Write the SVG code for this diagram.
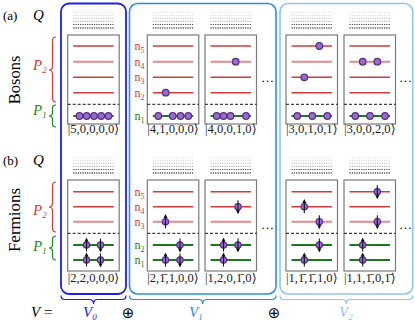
<svg xmlns="http://www.w3.org/2000/svg" xmlns:xlink="http://www.w3.org/1999/xlink" width="415" height="325" viewBox="0 0 415 325">
<style>
.t{font-family:"Liberation Serif","DejaVu Serif",serif}
.box0{fill:none;stroke:#1f1fe6;stroke-width:1.8}
.box1{fill:none;stroke:#2b8de8;stroke-width:1.6}
.box2{fill:none;stroke:#92c4f2;stroke-width:1.6}
.panel{fill:#fff;stroke:#7a7a7a;stroke-width:1.2}
.red{stroke:#d23c3c;stroke-width:1.4}
.pink{stroke:#e38a8a;stroke-width:2}
.grn{stroke:#1b7a1b;stroke-width:2.2}
.dash{stroke:#111;stroke-width:1;stroke-dasharray:3 2}
.pb{fill:#9370c8;stroke:#5c2c8e;stroke-width:1.2}
.q{stroke-width:1;stroke-dasharray:1.3 1}
.ket{font-size:12.6px;fill:#222;text-anchor:middle}
.nr{font-size:12px;fill:#d23c3c}
.ng{font-size:12px;fill:#1b7a1b}
.cal{font-style:italic;font-size:15px}
.brace{fill:none;stroke-width:1.2}
</style>
<defs>
<g id="qd">
<line class="q" x1="5.5" x2="46" y1="12.3" y2="12.3" stroke="#e4e4e4"/>
<line class="q" x1="5.5" x2="46" y1="15.3" y2="15.3" stroke="#d8d8d8"/>
<line class="q" x1="5.5" x2="46" y1="18.3" y2="18.3" stroke="#c4c4c4"/>
<line class="q" x1="5.5" x2="46" y1="21.3" y2="21.3" stroke="#a8a8a8"/>
<line class="q" x1="5.5" x2="46" y1="24.5" y2="24.5" stroke="#555"/>
<line class="q" x1="5.5" x2="46" y1="28" y2="28" stroke="#111"/>
</g>
<g id="bp">
<rect class="panel" x="0" y="35" width="51.5" height="89"/>
<line class="red" x1="5.5" x2="46" y1="46" y2="46"/>
<line class="pink" x1="5.5" x2="46" y1="61.7" y2="61.7"/>
<line class="red" x1="5.5" x2="46" y1="77.3" y2="77.3"/>
<line class="red" x1="5.5" x2="46" y1="92.7" y2="92.7"/>
<line class="dash" x1="0" x2="51.5" y1="104.3" y2="104.3"/>
<line class="grn" x1="5.5" x2="46" y1="116" y2="116"/>
</g>
<g id="fp">
<rect class="panel" x="0" y="180" width="51.5" height="91"/>
<line class="red" x1="5.5" x2="46" y1="191.7" y2="191.7"/>
<line class="red" x1="5.5" x2="46" y1="206.7" y2="206.7"/>
<line class="pink" x1="5.5" x2="46" y1="221.7" y2="221.7"/>
<line class="dash" x1="0" x2="51.5" y1="233.3" y2="233.3"/>
<line class="grn" x1="5.5" x2="46" y1="245" y2="245"/>
<line class="grn" x1="5.5" x2="46" y1="260" y2="260"/>
</g>
<circle id="b" r="3.3" class="pb"/>
<g id="up">
<circle r="3.2" class="pb"/>
<line x1="0" y1="6.5" x2="0" y2="-4" stroke="#111" stroke-width="1.1"/>
<path d="M-2 -3.6 L0 -7.6 L2 -3.6Z" fill="#111"/>
</g>
</defs>

<g id="containers">
<rect class="box0" x="61" y="3.5" width="65" height="290.5" rx="8"/>
<rect class="box1" x="129.5" y="3.5" width="146.5" height="290.5" rx="8"/>
<rect class="box2" x="280" y="3.5" width="132.7" height="290.5" rx="8"/>
</g>

<g id="labels" class="t">
<text x="3" y="19.5" font-size="13">(a)</text>
<text class="cal" x="33" y="19.5">Q</text>
<text x="3" y="164.5" font-size="13">(b)</text>
<text class="cal" x="33" y="164.5">Q</text>
<text transform="translate(20,80) rotate(-90)" font-size="16.5" text-anchor="middle">Bosons</text>
<text transform="translate(20,220) rotate(-90)" font-size="17" text-anchor="middle">Fermions</text>
<text class="cal" x="33" y="70" fill="#d23c3c">P<tspan font-size="9" dy="3">2</tspan></text>
<text class="cal" x="33" y="115" fill="#1b8a1b">P<tspan font-size="9" dy="3">1</tspan></text>
<text class="cal" x="33" y="215" fill="#d23c3c">P<tspan font-size="9" dy="3">2</tspan></text>
<text class="cal" x="33" y="251" fill="#1b8a1b">P<tspan font-size="9" dy="3">1</tspan></text>
<text x="31" y="317" font-size="15"><tspan font-style="italic">V</tspan> =</text>
<text class="cal" x="83" y="317" fill="#2020e0">V<tspan font-size="9" dy="3">0</tspan></text>
<text class="cal" x="189" y="317" fill="#2b8de8">V<tspan font-size="9" dy="3">1</tspan></text>
<text class="cal" x="339" y="317" fill="#92c4f2">V<tspan font-size="9" dy="3">2</tspan></text>
<text x="128" y="318" font-size="15" text-anchor="middle" font-family="DejaVu Sans">⊕</text>
<text x="274" y="318" font-size="15" text-anchor="middle" font-family="DejaVu Sans">⊕</text>
<text x="261" y="82" font-size="13">…</text>
<text x="399" y="82" font-size="13">…</text>
<text x="261" y="229" font-size="13">…</text>
<text x="399" y="229" font-size="13">…</text>
<text class="nr" x="134.5" y="50">n<tspan font-size="8" dy="3">5</tspan></text>
<text class="nr" x="134.5" y="65.7">n<tspan font-size="8" dy="3">4</tspan></text>
<text class="nr" x="134.5" y="81.3">n<tspan font-size="8" dy="3">3</tspan></text>
<text class="nr" x="134.5" y="96.7">n<tspan font-size="8" dy="3">2</tspan></text>
<text class="ng" x="134.5" y="120">n<tspan font-size="8" dy="3">1</tspan></text>
<text class="nr" x="134.5" y="195.7">n<tspan font-size="8" dy="3">5</tspan></text>
<text class="nr" x="134.5" y="210.7">n<tspan font-size="8" dy="3">4</tspan></text>
<text class="nr" x="134.5" y="225.7">n<tspan font-size="8" dy="3">3</tspan></text>
<text class="ng" x="134.5" y="249">n<tspan font-size="8" dy="3">2</tspan></text>
<text class="ng" x="134.5" y="264">n<tspan font-size="8" dy="3">1</tspan></text>
</g>

<g id="connectors">
<path class="brace" stroke="#d23c3c" d="M56 37 Q52.5 37 52.5 41 L52.5 66 Q52.5 70 49 70 Q52.5 70 52.5 74 L52.5 98 Q52.5 102 56 102"/>
<path class="brace" stroke="#1b8a1b" d="M56 105 Q52.5 105 52.5 108.5 L52.5 112.5 Q52.5 116 49 116 Q52.5 116 52.5 119.5 L52.5 123.5 Q52.5 127 56 127"/>
<path class="brace" stroke="#d23c3c" d="M56 182 Q52.5 182 52.5 186 L52.5 203 Q52.5 207 49 207 Q52.5 207 52.5 211 L52.5 228 Q52.5 232 56 232"/>
<path class="brace" stroke="#1b8a1b" d="M56 236 Q52.5 236 52.5 239.5 L52.5 244.5 Q52.5 248 49 248 Q52.5 248 52.5 251.5 L52.5 256.5 Q52.5 260 56 260"/>
<path class="brace" stroke="#2020e0" d="M61 295.5 Q61 299.5 65 299.5 L89.5 299.5 Q93.5 299.5 93.5 304 Q93.5 299.5 97.5 299.5 L122 299.5 Q126 299.5 126 295.5"/>
<path class="brace" stroke="#2b8de8" d="M129.5 295.5 Q129.5 299.5 133.5 299.5 L198.7 299.5 Q202.7 299.5 202.7 304 Q202.7 299.5 206.7 299.5 L272 299.5 Q276 299.5 276 295.5"/>
<path class="brace" stroke="#92c4f2" d="M280 295.5 Q280 299.5 284 299.5 L342.3 299.5 Q346.3 299.5 346.3 304 Q346.3 299.5 350.3 299.5 L408.7 299.5 Q412.7 299.5 412.7 295.5"/>
</g>

<g id="boson-5-0-0-0-0">
<use xlink:href="#qd" x="67.7"/>
<use xlink:href="#bp" x="67.7"/>
<use xlink:href="#b" x="79.5" y="116"/><use xlink:href="#b" x="86.7" y="116"/><use xlink:href="#b" x="94" y="116"/><use xlink:href="#b" x="101.2" y="116"/><use xlink:href="#b" x="108.5" y="116"/>
<text class="t ket" x="93.5" y="132.5">|5,0,0,0,0⟩</text>
</g>
<g id="boson-4-1-0-0-0">
<use xlink:href="#qd" x="147.3"/>
<use xlink:href="#bp" x="147.3"/>
<use xlink:href="#b" x="165.7" y="92.7"/>
<use xlink:href="#b" x="158.3" y="116"/><use xlink:href="#b" x="172.7" y="116"/><use xlink:href="#b" x="180.5" y="116"/><use xlink:href="#b" x="188.3" y="116"/>
<text class="t ket" x="173" y="132.5">|4,1,0,0,0⟩</text>
</g>
<g id="boson-4-0-0-1-0">
<use xlink:href="#qd" x="205"/>
<use xlink:href="#bp" x="205"/>
<use xlink:href="#b" x="235.7" y="61.7"/>
<use xlink:href="#b" x="216.7" y="116"/><use xlink:href="#b" x="223.5" y="116"/><use xlink:href="#b" x="230.5" y="116"/><use xlink:href="#b" x="246" y="116"/>
<text class="t ket" x="230.8" y="132.5">|4,0,0,1,0⟩</text>
</g>
<g id="boson-3-0-1-0-1">
<use xlink:href="#qd" x="286"/>
<use xlink:href="#bp" x="286"/>
<use xlink:href="#b" x="319.3" y="46"/>
<use xlink:href="#b" x="304.3" y="77.3"/>
<use xlink:href="#b" x="297.3" y="116"/><use xlink:href="#b" x="312.3" y="116"/><use xlink:href="#b" x="327.3" y="116"/>
<text class="t ket" x="311.8" y="132.5">|3,0,1,0,1⟩</text>
</g>
<g id="boson-3-0-0-2-0">
<use xlink:href="#qd" x="344"/>
<use xlink:href="#bp" x="344"/>
<use xlink:href="#b" x="362.7" y="61.7"/><use xlink:href="#b" x="377.3" y="61.7"/>
<use xlink:href="#b" x="355.3" y="116"/><use xlink:href="#b" x="370" y="116"/><use xlink:href="#b" x="385" y="116"/>
<text class="t ket" x="369.8" y="132.5">|3,0,0,2,0⟩</text>
</g>

<g id="fermion-2-2-0-0-0">
<use xlink:href="#qd" x="67.7" y="145"/>
<use xlink:href="#fp" x="67.7"/>
<use xlink:href="#up" transform="translate(86.5,245)"/><use xlink:href="#up" transform="translate(100.5,245) rotate(180)"/>
<use xlink:href="#up" transform="translate(86.5,260)"/><use xlink:href="#up" transform="translate(100.5,260) rotate(180)"/>
<text class="t ket" x="93.5" y="281.5">|2,2,0,0,0⟩</text>
</g>
<g id="fermion-2-1b-1-0-0">
<use xlink:href="#qd" x="147.3" y="145"/>
<use xlink:href="#fp" x="147.3"/>
<use xlink:href="#up" transform="translate(165.5,221.7)"/>
<use xlink:href="#up" transform="translate(180,245) rotate(180)"/>
<use xlink:href="#up" transform="translate(165.5,260)"/><use xlink:href="#up" transform="translate(180,260) rotate(180)"/>
<text class="t ket" x="173" y="281.5">|2,1̄,1,0,0⟩</text>
</g>
<g id="fermion-1-2-0-1b-0">
<use xlink:href="#qd" x="205" y="145"/>
<use xlink:href="#fp" x="205"/>
<use xlink:href="#up" transform="translate(238,206.7) rotate(180)"/>
<use xlink:href="#up" transform="translate(223.5,245)"/><use xlink:href="#up" transform="translate(238,245) rotate(180)"/>
<use xlink:href="#up" transform="translate(223.5,260)"/>
<text class="t ket" x="230.8" y="281.5">|1,2,0,1̄,0⟩</text>
</g>
<g id="fermion-1-1b-1b-1-0">
<use xlink:href="#qd" x="286" y="145"/>
<use xlink:href="#fp" x="286"/>
<use xlink:href="#up" transform="translate(304.3,206.7)"/>
<use xlink:href="#up" transform="translate(319.3,221.7) rotate(180)"/>
<use xlink:href="#up" transform="translate(319.3,245) rotate(180)"/>
<use xlink:href="#up" transform="translate(304.3,260)"/>
<text class="t ket" x="311.8" y="281.5">|1,1̄,1̄,1,0⟩</text>
</g>
<g id="fermion-1-1-1b-0-1b">
<use xlink:href="#qd" x="344" y="145"/>
<use xlink:href="#fp" x="344"/>
<use xlink:href="#up" transform="translate(377.3,191.7) rotate(180)"/>
<use xlink:href="#up" transform="translate(377.3,221.7) rotate(180)"/>
<use xlink:href="#up" transform="translate(362.7,245)"/>
<use xlink:href="#up" transform="translate(362.7,260)"/>
<text class="t ket" x="369.8" y="281.5">|1,1,1̄,0,1̄⟩</text>
</g>
</svg>
